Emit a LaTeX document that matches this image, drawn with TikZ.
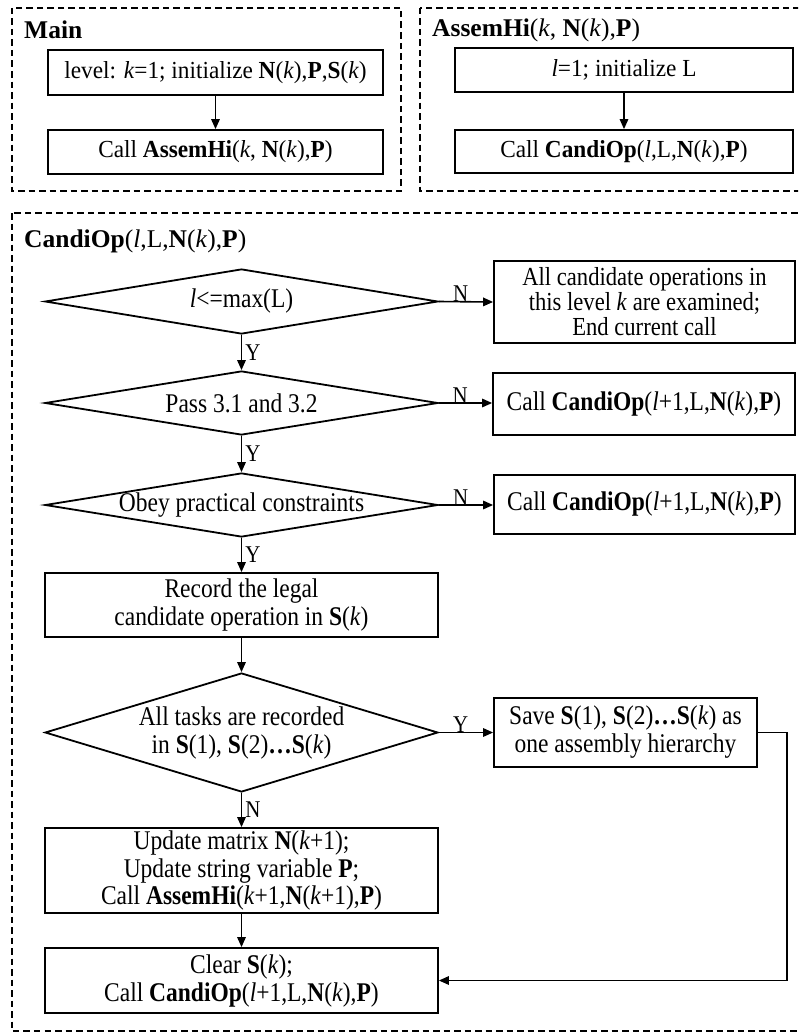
\documentclass[tikz,border=0pt]{standalone}
\usepackage{fontspec}
\setmainfont{Liberation Serif}
% narrow setting of the serif for the flowchart boxes
\newfontfamily\bodyfont[FakeStretch=0.87]{Liberation Serif}
\newfontfamily\topfont[FakeStretch=0.95]{Liberation Serif}
\usetikzlibrary{shapes.geometric,arrows.meta}
\begin{document}
\begin{tikzpicture}[x=1pt,y=-1pt,
  every node/.style={inner sep=0pt},
  txt/.style={font=\bodyfont\fontsize{27}{28}\selectfont, align=center},
  toptxt/.style={font=\topfont\fontsize{24.5}{28}\selectfont, align=center},
  box/.style={draw, line width=1.8pt, rectangle, txt},
  topbox/.style={draw, line width=1.8pt, rectangle, toptxt},
  dec/.style={draw, line width=1.8pt, diamond, minimum width=393pt},
  dectext/.style={txt},
  frame/.style={line width=1.5pt, dash pattern=on 6.5pt off 4pt},
  flow/.style={line width=1.6pt, -{Triangle[length=10pt,width=8.5pt]}},
  lbl/.style={font=\bodyfont\fontsize{24}{26}\selectfont},
  heading/.style={anchor=base west, font=\fontsize{25.5}{28}\selectfont\bfseries}
]
\useasboundingbox (0,0) rectangle (798,1033);
\fill[white] (0,0) rectangle (798,1033);
\clip (0,0) rectangle (798,1033);

% ---------- Main ----------
\draw[frame] (12,8) rectangle (401,191);
\node[heading] (tmain) at (24,39) {Main};
\node[topbox, minimum width=335pt, minimum height=45pt] (m1) at (215.5,72.5)
  {level: \textit{k}=1; initialize \textbf{N}(\textit{k}),\textbf{P},\textbf{S}(\textit{k})};
\node[topbox, minimum width=335pt, minimum height=44pt] (m2) at (215.5,152)
  {Call \textbf{AssemHi}(\textit{k}, \textbf{N}(\textit{k}),\textbf{P})};
\draw[flow] (m1) -- (m2);

% ---------- AssemHi ----------
\draw[frame] (420,8) rectangle (810,191);
\node[heading] (tasm) at (432,37)
  {AssemHi\textmd{(\textit{k}, }N\textmd{(\textit{k}),}P\textmd{)}};
\node[topbox, minimum width=338pt, minimum height=44pt] (a1) at (624,70)
  {\textit{l}=1; initialize L};
\node[topbox, minimum width=338pt, minimum height=43pt] (a2) at (624,151.5)
  {Call \textbf{CandiOp}(\textit{l},L,\textbf{N}(\textit{k}),\textbf{P})};
\draw[flow] (a1) -- (a2);

% ---------- CandiOp ----------
\draw[frame] (12,213) rectangle (810,1031);
\node[heading] (tcand) at (24,247)
  {CandiOp\textmd{(\textit{l},L,}N\textmd{(\textit{k}),}P\textmd{)}};

\node[dec, minimum height=65pt,
      label={[dectext]center:\textit{l}<=max(L)}] (d1) at (241.5,301.5) {};
\node[dec, minimum height=64pt,
      label={[dectext]center:Pass 3.1 and 3.2}] (d2) at (241.5,403) {};
\node[dec, minimum height=64pt,
      label={[dectext]center:Obey practical constraints}] (d3) at (241.5,505) {};
\node[box, minimum width=393pt, minimum height=64pt] (rec) at (241.5,605)
  {Record the legal\\candidate operation in \textbf{S}(\textit{k})};
\node[dec, minimum height=119pt,
      label={[dectext]center:All tasks are recorded\\in \textbf{S}(1), \textbf{S}(2)\textbf{…S}(\textit{k})}]
      (d4) at (241.5,732.5) {};
\node[box, minimum width=393pt, minimum height=85pt,
      font=\bodyfont\fontsize{27}{27.5}\selectfont] (upd) at (241.5,870.5)
  {Update matrix \textbf{N}(\textit{k}+1);\\Update string variable \textbf{P};\\
   Call \textbf{AssemHi}(\textit{k}+1,\textbf{N}(\textit{k}+1),\textbf{P})};
\node[box, minimum width=393pt, minimum height=65pt] (clr) at (241.5,980.5)
  {Clear \textbf{S}(\textit{k});\\Call \textbf{CandiOp}(\textit{l}+1,L,\textbf{N}(\textit{k}),\textbf{P})};

\node[box, minimum width=301pt, minimum height=82pt,
      font=\bodyfont\fontsize{26}{25}\selectfont] (bA) at (644.5,302)
  {All candidate operations in\\this level \textit{k} are examined;\\End current call};
\node[box, minimum width=302pt, minimum height=62pt] (bB) at (644,404)
  {Call \textbf{CandiOp}(\textit{l}+1,L,\textbf{N}(\textit{k}),\textbf{P})};
\node[box, minimum width=301pt, minimum height=59pt] (bC) at (644.5,504.5)
  {Call \textbf{CandiOp}(\textit{l}+1,L,\textbf{N}(\textit{k}),\textbf{P})};
\node[box, minimum width=263pt, minimum height=69pt] (save) at (625.5,732.5)
  {Save \textbf{S}(1), \textbf{S}(2)\textbf{…S}(\textit{k}) as\\one assembly hierarchy};

% connectors
\draw[flow] (d1.east) -- node[lbl, above, pos=0.4, yshift=-1pt] {N} (bA.west);
\draw[flow] (d2.east) -- node[lbl, above, pos=0.4, yshift=-1pt] {N} (bB.west |- d2.east);
\draw[flow] (d3.east) -- node[lbl, above, pos=0.4, yshift=-1pt] {N} (bC.west |- d3.east);
\draw[flow] (d4.east) -- node[lbl, above, pos=0.4, yshift=-1pt] {Y} (save.west);
\draw[flow] (d1.south) -- node[lbl, right, xshift=3pt] {Y} (d2.north);
\draw[flow] (d2.south) -- node[lbl, right, xshift=3pt] {Y} (d3.north);
\draw[flow] (d3.south) -- node[lbl, right, xshift=3pt] {Y} (rec.north);
\draw[flow] (rec.south) -- (d4.north);
\draw[flow] (d4.south) -- node[lbl, right, xshift=3pt] {N} (upd.north);
\draw[flow] (upd.south) -- (clr.north);
\draw[flow] (save.east) -- ++(29,0) |- (clr.east);
\end{tikzpicture}
\end{document}
